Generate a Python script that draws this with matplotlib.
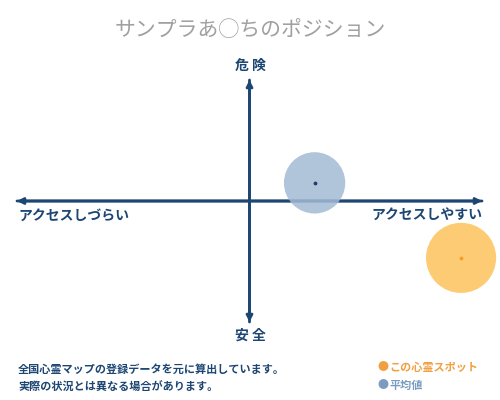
import matplotlib
matplotlib.use("Agg")
import matplotlib.pyplot as plt

plt.rcParams["font.family"] = ["Noto Sans CJK JP", "DejaVu Sans"]

# position data (x: access, y: danger), range -1..1
names = ["この心霊スポット", "平均値"]
xs = [0.91, 0.28]
ys = [-0.47, 0.15]
sizes = [2550, 1950]
fills = ["#fdc25a", "#a3bad4"]
dots = ["#f0a030", "#1f3f66"]

title = "サンプラあ◯ちのポジション"
top_label, bottom_label = "危 険", "安 全"
left_label, right_label = "アクセスしづらい", "アクセスしやすい"
notes = ["全国心霊マップの登録データを元に算出しています。",
         "実際の状況とは異なる場合があります。"]

NAVY = "#1d4673"
W, H = 500, 400

fig = plt.figure(figsize=(5, 4), dpi=100)
fig.patch.set_facecolor("white")
ax = fig.add_axes([17 / W, (H - 322) / H, 465 / W, 242 / H])
ax.set_xlim(-1, 1)
ax.set_ylim(-1, 1)
ax.axis("off")

arrow = dict(arrowstyle="-|>,head_length=0.35,head_width=0.18", color=NAVY, lw=2.0,
             shrinkA=0, shrinkB=0)
ax.annotate("", xy=(1, 0), xytext=(-1, 0), arrowprops=arrow)
ax.annotate("", xy=(-1, 0), xytext=(1, 0), arrowprops=arrow)
ax.annotate("", xy=(0, 1), xytext=(0, -1), arrowprops=arrow)
ax.annotate("", xy=(0, -1), xytext=(0, 1), arrowprops=arrow)

for x, y, s, fc, dc in zip(xs, ys, sizes, fills, dots):
    ax.scatter([x], [y], s=s, color=fc, alpha=0.85, edgecolors="none", zorder=3,
               clip_on=False)
    ax.scatter([x], [y], s=3, color=dc, zorder=4, clip_on=False)

fig.text(0.5, 1 - 30 / H, title, ha="center", va="center", fontsize=15,
         color="#a0a0a0")
fig.text(0.5, 1 - 66 / H, top_label, ha="center", va="center", fontsize=10,
         color=NAVY, fontweight="bold")
fig.text(0.5, 1 - 336 / H, bottom_label, ha="center", va="center", fontsize=10,
         color=NAVY, fontweight="bold")
fig.text(18 / W, 1 - 216 / H, left_label, ha="left", va="center", fontsize=10,
         color=NAVY, fontweight="bold")
fig.text(482 / W, 1 - 216 / H, right_label, ha="right", va="center", fontsize=10,
         color=NAVY, fontweight="bold")

for i, line in enumerate(notes):
    fig.text(18 / W, 1 - (369 + 18 * i) / H, line, ha="left", va="center",
             fontsize=8, color=NAVY, fontweight="bold")

legend_cols = ["#f0a040", "#7b9cc0"]
for i, (name, c) in enumerate(zip(names, legend_cols)):
    yy = 1 - (367 + 18 * i) / H
    fig.text(377 / W, yy, "●", ha="left", va="center", fontsize=8, color=c)
    fig.text(389 / W, yy, name, ha="left", va="center", fontsize=8, color=c,
             fontweight="bold")

fig.savefig("out.png", dpi=100)
